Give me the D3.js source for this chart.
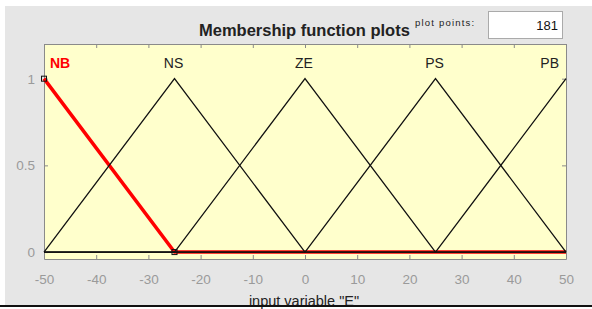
<!DOCTYPE html>
<html>
<head>
<meta charset="utf-8">
<script src="https://cdn.jsdelivr.net/npm/d3@7"></script>
<style>
  body { margin: 0; background: #fff; }
  svg { display: block; font-family: "Liberation Sans", Arial, sans-serif; }
</style>
</head>
<body>
<svg id="chart" width="592" height="309"></svg>
<script>
// --- Data ---
const mfNames = ["NB", "NS", "ZE", "PS", "PB"];
const mfPeaks = [-50, -25, 0, 25, 50];
// polyline points of each membership function over [-50, 50]
const mfX = [
  [-50, -25, 50],
  [-50, -25, 0, 50],
  [-50, -25, 0, 25, 50],
  [-50, 0, 25, 50],
  [-50, 25, 50]
];
const mfY = [
  [1, 0, 0],
  [0, 1, 0, 0],
  [0, 0, 1, 0, 0],
  [0, 0, 1, 0],
  [0, 0, 1]
];
const xTicks = [-50, -40, -30, -20, -10, 0, 10, 20, 30, 40, 50];
const yTicks = [0, 0.5, 1];
const selected = 0;

const svg = d3.select("#chart");
const margin = { top: 44, left: 44, right: 26, bottom: 50 };
const width = 592 - margin.left - margin.right,
  height = 309 - margin.top - margin.bottom;

// panel background
svg.append("rect").attr("x", 5).attr("y", 6).attr("width", 587).attr("height", 299).attr("fill", "#e6e6e6");

const x = d3.scaleLinear().domain([-50, 50]).range([0, width]);
const y = d3.scaleLinear().domain([-0.04, 1.2]).range([height, 0]);

const g = svg.append("g").attr("transform", `translate(${margin.left},${margin.top})`);

g.append("rect").attr("width", width).attr("height", height).attr("fill", "#ffffcc");

// axes
const axB = g.append("g").attr("transform", `translate(0,${height})`)
  .call(d3.axisBottom(x).tickValues(xTicks).tickSizeInner(-4).tickSizeOuter(0).tickPadding(15)
    .tickFormat(d => String(d)));
const axT = g.append("g")
  .call(d3.axisTop(x).tickValues(xTicks).tickSizeInner(-4).tickSizeOuter(0).tickFormat(""));
const axL = g.append("g")
  .call(d3.axisLeft(y).tickValues(yTicks).tickSizeInner(-4).tickSizeOuter(0).tickPadding(9)
    .tickFormat(d => String(d)));
const axR = g.append("g").attr("transform", `translate(${width},0)`)
  .call(d3.axisRight(y).tickValues(yTicks).tickSizeInner(-4).tickSizeOuter(0).tickFormat(""));
[axB, axT, axL, axR].forEach(a => {
  a.select(".domain").attr("stroke", "#8a8a8a");
  a.selectAll(".tick line").attr("stroke", "#8a8a8a");
  a.selectAll(".tick text").attr("fill", "#9a9a9a").style("font-size", "13.5px")
    .style("font-family", "'Liberation Sans', Arial, sans-serif");
});

const line = d3.line().x(d => x(d[0])).y(d => y(d[1]));

// selected MF drawn underneath in red
g.append("path")
  .datum(mfX[selected].map((v, i) => [v, mfY[selected][i]]))
  .attr("d", line).attr("fill", "none").attr("stroke", "#ff0000").attr("stroke-width", 3.5);

// other MFs in black
mfNames.forEach((n, k) => {
  if (k === selected) return;
  g.append("path")
    .datum(mfX[k].map((v, i) => [v, mfY[k][i]]))
    .attr("d", line).attr("fill", "none").attr("stroke", "#111").attr("stroke-width", 1.3);
});

// vertex markers on the selected MF
[[-50, 1], [-25, 0]].forEach(p => {
  g.append("rect").attr("x", x(p[0]) - 2.5).attr("y", y(p[1]) - 2.5)
    .attr("width", 5).attr("height", 5).attr("fill", "none").attr("stroke", "#111").attr("stroke-width", 1);
});

// MF labels
g.selectAll("text.mf").data(mfNames).join("text")
  .attr("class", "mf")
  .attr("x", (d, i) => i === 0 ? x(mfPeaks[i]) + 6 : i === mfNames.length - 1 ? x(mfPeaks[i]) - 7 : x(mfPeaks[i]) - 1)
  .attr("y", 24)
  .attr("text-anchor", (d, i) => i === 0 ? "start" : i === mfNames.length - 1 ? "end" : "middle")
  .attr("fill", (d, i) => i === selected ? "#ff0000" : "#222")
  .style("font-weight", (d, i) => i === selected ? "bold" : "normal")
  .style("font-size", "14px")
  .text(d => d);

// title
svg.append("text").attr("x", 199).attr("y", 36)
  .style("font-size", "16.5px").style("font-weight", "bold").attr("fill", "#222")
  .text("Membership function plots");

// plot points control
svg.append("text").attr("x", 415).attr("y", 26)
  .style("font-size", "9.5px").style("letter-spacing", "1.2px").attr("fill", "#222").text("plot points:");
svg.append("rect").attr("x", 488.5).attr("y", 11.5).attr("width", 74).attr("height", 27)
  .attr("fill", "#fff").attr("stroke", "#aaa");
svg.append("text").attr("x", 558).attr("y", 30).attr("text-anchor", "end")
  .style("font-size", "13px").attr("fill", "#111").text("181");

// x label
svg.append("text").attr("x", 304).attr("y", 306).attr("text-anchor", "middle")
  .style("font-size", "14.5px").attr("fill", "#222").text('input variable "E"');

svg.append("rect").attr("x", 0).attr("y", 305).attr("width", 592).attr("height", 2).attr("fill", "#111");
</script>
</body>
</html>
